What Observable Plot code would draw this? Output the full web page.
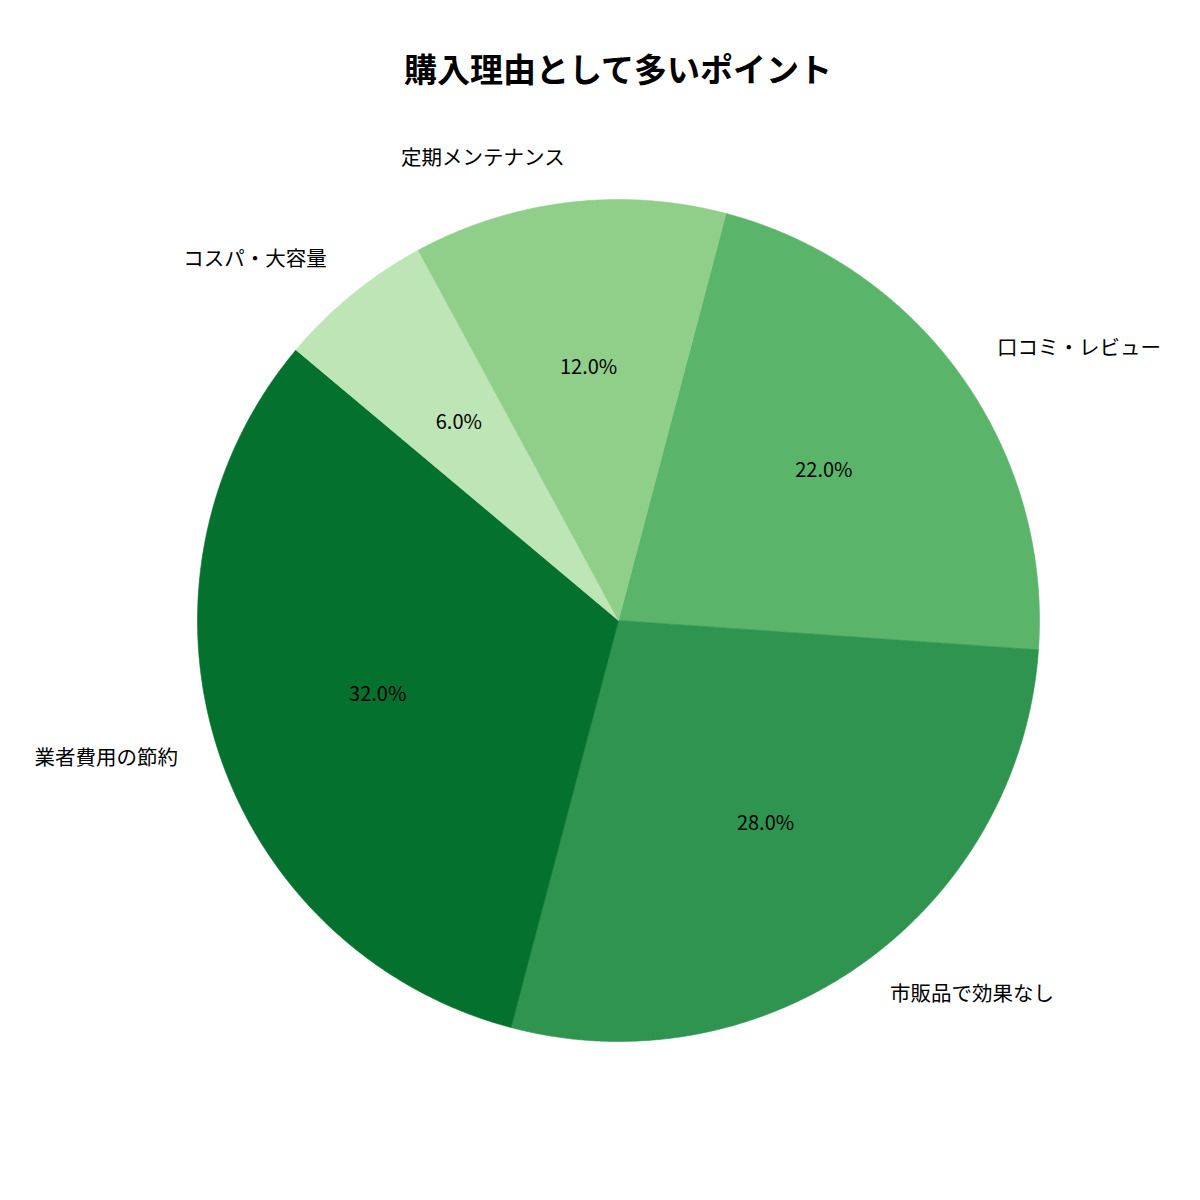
<!DOCTYPE html>
<html>
<head>
<meta charset="utf-8">
<script src="https://cdn.jsdelivr.net/npm/d3@7"></script>
<script src="https://cdn.jsdelivr.net/npm/@observablehq/plot@0.6"></script>
<style>
  html, body { margin: 0; padding: 0; background: #fff; }
  #wrap { position: relative; width: 1200px; height: 1200px; }
  #title { position: absolute; left: 0; top: 46px; width: 1236px; text-align: center; z-index: 2;
    font-family: "Noto Sans CJK JP", sans-serif; font-weight: bold; font-size: 33px; line-height: 44px; color: #000; }
  #chart { position: absolute; left: 0; top: 0; z-index: 1; }
</style>
</head>
<body>
<div id="wrap">
  <div id="chart"></div>
  <div id="title">購入理由として多いポイント</div>
</div>
<script>
const categories = ["口コミ・レビュー", "市販品で効果なし", "業者費用の節約", "コスパ・大容量", "定期メンテナンス"];
const values = [22, 28, 32, 6, 12];
const colors = ["#5ab469", "#2e944f", "#05712f", "#bee5b6", "#8fcf8a"];
const startAngle = 14.8; // degrees clockwise from 12 o'clock

const total = d3.sum(values);
const slices = [];
let acc = startAngle;
categories.forEach((c, i) => {
  const span = values[i] / total * 360;
  slices.push({category: c, value: values[i], a0: acc, a1: acc + span, mid: acc + span / 2});
  acc += span;
});

const rad = d => d * Math.PI / 180;
const pts = [];
for (const s of slices) {
  pts.push({category: s.category, x: 0, y: 0});
  const n = Math.ceil((s.a1 - s.a0) / 0.25);
  for (let k = 0; k <= n; k++) {
    const a = rad(s.a0 + (s.a1 - s.a0) * k / n);
    pts.push({category: s.category, x: Math.sin(a), y: Math.cos(a)});
  }
  pts.push({category: s.category, x: 0, y: 0});
}

const labels = slices.map(s => ({
  category: s.category,
  x: 1.1 * Math.sin(rad(s.mid)), y: 1.1 * Math.cos(rad(s.mid)),
  px: 0.6 * Math.sin(rad(s.mid)), py: 0.6 * Math.cos(rad(s.mid)),
  pct: (s.value / total * 100).toFixed(1) + "%"
}));

const R = 421, cx = 618, cy = 620;
const font = "Noto Sans CJK JP";
const chart = Plot.plot({
  width: 1200, height: 1200,
  margin: 0,
  x: {domain: [-cx / R, (1200 - cx) / R], axis: null},
  y: {domain: [-(1200 - cy) / R, cy / R], axis: null},
  color: {domain: categories, range: colors},
  style: {fontFamily: font, background: "transparent"},
  marks: [
    Plot.line(pts, {x: "x", y: "y", z: "category", fill: "category", stroke: "category", strokeWidth: 0.6, curve: "linear"}),
    Plot.text(labels.filter(d => d.x < 0), {x: "x", y: "y", text: "category", textAnchor: "end", dx: 1, dy: -2.5, fontSize: 20.5, fill: "#000", fontFamily: font}),
    Plot.text(labels.filter(d => d.x >= 0), {x: "x", y: "y", text: "category", textAnchor: "start", dx: 2, dy: -2.5, fontSize: 20.5, fill: "#000", fontFamily: font}),
    Plot.text(labels, {x: "px", y: "py", text: "pct", dy: -2.5, fontSize: 20, fill: "#000", fontFamily: font})
  ]
});
document.getElementById("chart").appendChild(chart);
</script>
</body>
</html>
